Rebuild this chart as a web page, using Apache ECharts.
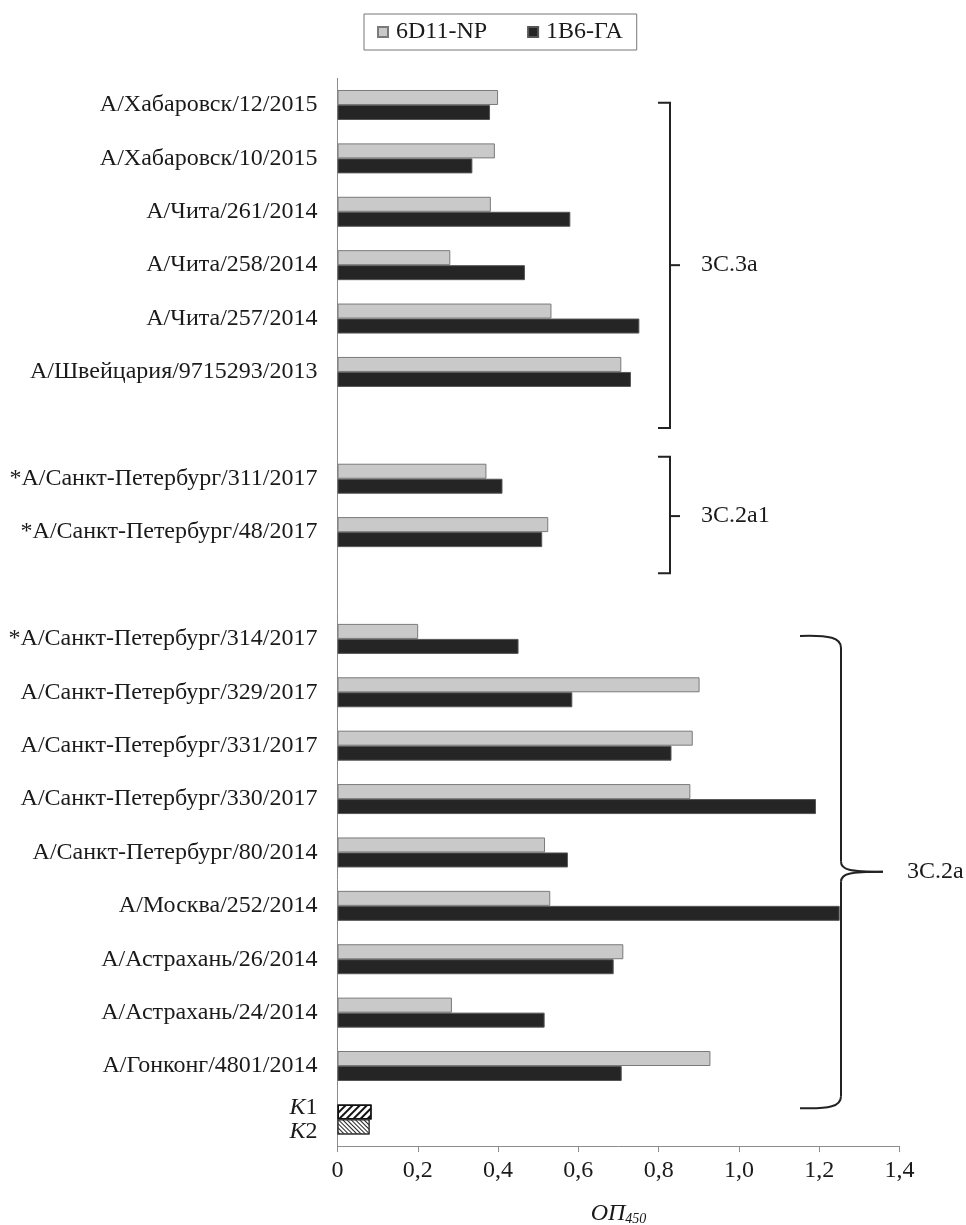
<!DOCTYPE html>
<html><head><meta charset="utf-8">
<script src="https://cdn.jsdelivr.net/npm/echarts@6/dist/echarts.min.js"></script>
<style>html,body{margin:0;padding:0;background:#fff}#c{width:966px;height:1225px}</style>
</head><body><div id="c"></div>
<script>
// ---- data ----
const categories = [
  'А/Хабаровск/12/2015','А/Хабаровск/10/2015','А/Чита/261/2014','А/Чита/258/2014',
  'А/Чита/257/2014','А/Швейцария/9715293/2013',' ',
  '*А/Санкт-Петербург/311/2017','*А/Санкт-Петербург/48/2017','  ',
  '*А/Санкт-Петербург/314/2017','А/Санкт-Петербург/329/2017','А/Санкт-Петербург/331/2017',
  'А/Санкт-Петербург/330/2017','А/Санкт-Петербург/80/2014','А/Москва/252/2014',
  'А/Астрахань/26/2014','А/Астрахань/24/2014','А/Гонконг/4801/2014','K'
];
const valuesNP = [0.400,0.392,0.382,0.281,0.533,0.707,null,0.371,0.525,null,
                  0.201,0.902,0.885,0.879,0.517,0.530,0.712,0.285,0.929];
const valuesGA = [0.380,0.336,0.580,0.467,0.752,0.731,null,0.411,0.510,null,
                  0.451,0.585,0.832,1.192,0.574,1.251,0.688,0.516,0.708];
const controlK1 = 0.085;
const controlK2 = 0.080;
const xTickValues = [0,0.2,0.4,0.6,0.8,1.0,1.2,1.4];
const seriesNames = ['6D11-NP','1B6-ГА'];
// clade groups: fractional category positions (top, bottom, tip)
const groups = [
  {label:'3C.3a', top:-0.04, bottom:6.05, tip:3.0, kind:'square'},
  {label:'3C.2a1', top:6.59, bottom:8.77, tip:7.70, kind:'square'},
  {label:'3C.2a', top:9.945, bottom:18.79, tip:14.36, kind:'curly'}
];

const FONT = '"Liberation Serif","Times New Roman",serif';
const TXT = '#1a1a1a';
const FS = 24;

const chart = echarts.init(document.getElementById('c'), null, {renderer:'canvas'});

const npData = valuesNP.map(v => v);
npData.push({value: controlK1, itemStyle:{color:'#ffffff', borderColor:'#111', borderWidth:1.5,
  decal:{symbol:'rect', symbolSize:1, dashArrayX:[1,0], dashArrayY:[2,2.5], rotation:-Math.PI/4, color:'#111', backgroundColor:'#ffffff'}}});
const gaData = valuesGA.map(v => v);
gaData.push({value: controlK2, itemStyle:{color:'#ffffff', borderColor:'#333', borderWidth:1.2,
  decal:{symbol:'rect', symbolSize:1, dashArrayX:[1,0], dashArrayY:[1,1.2], rotation:Math.PI/4, color:'#222', backgroundColor:'#ffffff'}}});

chart.setOption({
  animation:false,
  backgroundColor:'#fff',
  legend:{
    left:364, top:14, orient:'horizontal',
    borderColor:'#777', borderWidth:1, padding:[6,14,6,13],
    itemWidth:10, itemHeight:10, itemGap:40, icon:'rect',
    textStyle:{fontFamily:FONT, fontSize:FS, color:TXT, padding:[0,0,0,3]},
    data:seriesNames
  },
  grid:{left:337.5, top:78.3, width:562, height:1067.8, containLabel:false, outerBoundsMode:'none'},
  xAxis:{
    type:'value', min:0, max:1.4, interval:0.2,
    splitLine:{show:false},
    axisLine:{show:true, lineStyle:{color:'#8c8c8c', width:1}},
    axisTick:{show:true, length:6, lineStyle:{color:'#8c8c8c'}},
    axisLabel:{fontFamily:FONT, fontSize:FS, color:TXT, margin:13,
      formatter: v => {
        const t = xTickValues.find(x => Math.abs(x - v) < 1e-9);
        if (t === undefined) return '';
        return t === 0 ? '0' : t.toFixed(1).replace('.', ',');
      }},
    name:'{a|ОП}{s|450}', nameLocation:'middle', nameGap:56,
    nameTextStyle:{fontFamily:FONT, color:TXT, rich:{
      a:{fontFamily:FONT, fontStyle:'italic', fontSize:FS, color:TXT},
      s:{fontFamily:FONT, fontStyle:'italic', fontSize:14, color:TXT, padding:[10,0,0,0]}
    }}
  },
  yAxis:{
    type:'category', data:categories, inverse:true,
    axisLine:{show:true, lineStyle:{color:'#8c8c8c', width:1}},
    axisTick:{show:false},
    axisLabel:{fontFamily:FONT, fontSize:FS, color:TXT, margin:20, interval:0,
      formatter: v => v === 'K' ? '{k|K}{n|1}\n{k|K}{n|2}' : v,
      rich:{
        k:{fontFamily:FONT, fontStyle:'italic', fontSize:FS, color:TXT, lineHeight:24},
        n:{fontFamily:FONT, fontSize:FS, color:TXT, lineHeight:24}
      }}
  },
  series:[
    {name:seriesNames[0], type:'bar', data:npData, barWidth:15, barGap:'0%',
      itemStyle:{color:'#c9c9c9', borderColor:'#7a7a7a', borderWidth:1}},
    {name:seriesNames[1], type:'bar', data:gaData, barWidth:15, barGap:'0%',
      itemStyle:{color:'#252525', borderColor:'#555', borderWidth:1}}
  ]
});

// ---- clade brackets (annotations), positioned from the category axis ----
const y0 = chart.convertToPixel({yAxisIndex:0}, categories[0]);
const yN = chart.convertToPixel({yAxisIndex:0}, categories[categories.length-1]);
const band = (yN - y0) / (categories.length - 1);
const yAt = p => y0 + p * band;
const LS = {stroke:'#222', lineWidth:2, fill:null};
const els = [];
groups.forEach(g => {
  const t = yAt(g.top), b = yAt(g.bottom), m = yAt(g.tip);
  let lx;
  if (g.kind === 'square') {
    const xv = 670, xl = 658, xt = 680;
    els.push({type:'polyline', shape:{points:[[xl,t],[xv,t],[xv,b],[xl,b]]}, style:LS, silent:true});
    els.push({type:'line', shape:{x1:xv, y1:m, x2:xt, y2:m}, style:LS, silent:true});
    lx = 701;
  } else {
    const xl = 800, xv = 841, xt = 883;
    els.push({type:'bezierCurve', shape:{x1:xl, y1:t, cpx1:xl+30, cpy1:t-1, cpx2:xv, cpy2:t+2, x2:xv, y2:t+12}, style:LS, silent:true});
    els.push({type:'line', shape:{x1:xv, y1:t+12, x2:xv, y2:m-10}, style:LS, silent:true});
    els.push({type:'bezierCurve', shape:{x1:xv, y1:m-10, cpx1:xv, cpy1:m-2, cpx2:xv+8, cpy2:m, x2:xt, y2:m}, style:LS, silent:true});
    els.push({type:'bezierCurve', shape:{x1:xt, y1:m, cpx1:xv+8, cpy1:m, cpx2:xv, cpy2:m+2, x2:xv, y2:m+10}, style:LS, silent:true});
    els.push({type:'line', shape:{x1:xv, y1:m+10, x2:xv, y2:b-12}, style:LS, silent:true});
    els.push({type:'bezierCurve', shape:{x1:xv, y1:b-12, cpx1:xv, cpy1:b-2, cpx2:xl+30, cpy2:b+1, x2:xl, y2:b}, style:LS, silent:true});
    lx = 907;
  }
  els.push({type:'text', x:lx, y:m, style:{text:g.label, fontFamily:FONT, fontSize:FS, fill:TXT, verticalAlign:'middle', align:'left'}, silent:true});
});
chart.setOption({graphic:{elements:els}});
</script>
</body></html>
